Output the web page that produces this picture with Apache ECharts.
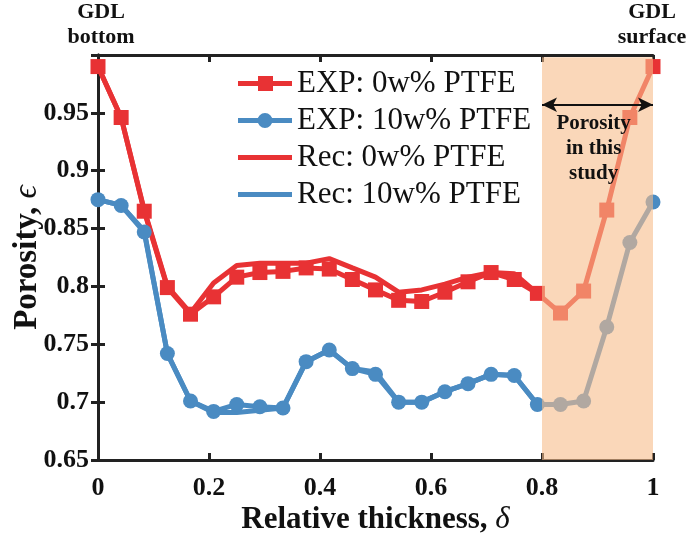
<!DOCTYPE html>
<html>
<head>
<meta charset="utf-8">
<script src="https://cdn.jsdelivr.net/npm/echarts@6/dist/echarts.min.js"></script>
<style>
  html, body { margin: 0; padding: 0; background: #fff; }
  #chart { width: 686px; height: 540px; }
</style>
</head>
<body>
<div id="chart"></div>
<script>
// relative thickness positions of the measured slices
var xExp = [0, 0.0417, 0.0833, 0.125, 0.1667, 0.2083, 0.25, 0.2917, 0.3333, 0.375, 0.4167, 0.4583, 0.5,
            0.5417, 0.5833, 0.625, 0.6667, 0.7083, 0.75, 0.7917, 0.8333, 0.875, 0.9167, 0.9583, 1];
var exp0 = [0.99, 0.946, 0.865, 0.799, 0.776, 0.791, 0.808, 0.812, 0.813, 0.816, 0.815, 0.806, 0.797,
            0.788, 0.787, 0.795, 0.804, 0.812, 0.806, 0.794, 0.777, 0.796, 0.866, 0.946, 0.99];
var exp10 = [0.875, 0.870, 0.847, 0.742, 0.701, 0.692, 0.698, 0.696, 0.695, 0.735, 0.745, 0.729, 0.724,
             0.700, 0.700, 0.709, 0.716, 0.724, 0.723, 0.698, 0.698, 0.701, 0.765, 0.838, 0.873];
// reconstruction only covers 0 .. 0.8
var xRec = xExp.slice(0, 20);
var rec0 = [0.99, 0.946, 0.866, 0.80, 0.777, 0.803, 0.818, 0.820, 0.820, 0.820, 0.824, 0.816, 0.808,
            0.795, 0.797, 0.802, 0.808, 0.812, 0.811, 0.794];
var rec10 = [0.875, 0.870, 0.848, 0.742, 0.701, 0.691, 0.691, 0.693, 0.695, 0.735, 0.745, 0.729, 0.726,
             0.700, 0.700, 0.709, 0.716, 0.724, 0.723, 0.698];
var names = ['EXP: 0w% PTFE', 'EXP: 10w% PTFE', 'Rec: 0w% PTFE', 'Rec: 10w% PTFE'];
var studyRange = [0.8, 1];

var red = '#e83234';
var blue = '#4a8bc2';
var serif = '"Liberation Serif", "Times New Roman", serif';

// legend icons: thick line, with a square / circle marker for the EXP ones
var iconSquare = 'path://M0,5H54V10H0Z M20,0H35V15H20Z';
var iconCircle = 'path://M0,5H54V10H0Z M19.5,7.5A7.5,7.5 0 1 1 34.5,7.5A7.5,7.5 0 1 1 19.5,7.5Z';
var iconLine = 'path://M0,5H54V10H0Z';

function pairs(xs, ys) {
  return xs.map(function (x, i) { return [x, ys[i]]; });
}

var chartDom = document.getElementById('chart');
var myChart = echarts.init(chartDom);

var axisCommon = {
  axisLine: { show: true, lineStyle: { color: '#222', width: 3 } },
  axisTick: { show: true, inside: true, length: 7, lineStyle: { color: '#222', width: 3 } },
  splitLine: { show: false }
};

var option = {
  animation: false,
  backgroundColor: '#fff',
  grid: { left: 98, right: 33, top: 55, bottom: 80, containLabel: false, outerBoundsMode: 'none' },
  legend: {
    data: [
      { name: names[0], icon: iconSquare },
      { name: names[1], icon: iconCircle },
      { name: names[2], icon: iconLine },
      { name: names[3], icon: iconLine }
    ],
    orient: 'vertical',
    left: 233,
    top: 63,
    itemWidth: 54,
    itemHeight: 15,
    itemGap: 6,
    textStyle: { fontFamily: serif, fontSize: 31, color: '#111' }
  },
  title: [
    { text: 'GDL\nbottom', left: 101, top: 0, padding: 0, textAlign: 'center',
      textStyle: { fontFamily: serif, fontWeight: 'bold', fontSize: 22, lineHeight: 25, color: '#111' } },
    { text: 'GDL\nsurface', left: 652, top: 0, padding: 0, textAlign: 'center',
      textStyle: { fontFamily: serif, fontWeight: 'bold', fontSize: 22, lineHeight: 25, color: '#111' } }
  ],
  xAxis: [
    Object.assign({
      type: 'value', min: 0, max: 1, interval: 0.2, position: 'bottom',
      axisLabel: { fontFamily: serif, fontWeight: 'bold', fontSize: 26, color: '#111', margin: 15,
        formatter: function (v) { return String(+v.toFixed(1)); } },
      name: '{b|Relative thickness, }{i|δ}',
      nameLocation: 'middle', nameGap: 44, nameMoveOverlap: false,
      nameTextStyle: { rich: {
        b: { fontFamily: serif, fontWeight: 'bold', fontSize: 31, color: '#111' },
        i: { fontFamily: serif, fontStyle: 'italic', fontSize: 31, color: '#111' } } }
    }, axisCommon),
    Object.assign({
      type: 'value', min: 0, max: 1, interval: 0.2, position: 'top',
      axisLabel: { show: false }
    }, axisCommon)
  ],
  yAxis: [
    Object.assign({
      type: 'value', min: 0.65, max: 1, interval: 0.05, position: 'left',
      axisLabel: { fontFamily: serif, fontWeight: 'bold', fontSize: 26, color: '#111', margin: 9,
        formatter: function (v) { return v > 0.99 ? '' : String(+v.toFixed(2)); } },
      name: '{b|Porosity, }{i|ϵ}',
      nameLocation: 'middle', nameGap: 54, nameRotate: 90, nameMoveOverlap: false,
      nameTextStyle: { rich: {
        b: { fontFamily: serif, fontWeight: 'bold', fontSize: 33, color: '#111' },
        i: { fontFamily: serif, fontStyle: 'italic', fontSize: 33, color: '#111' } } }
    }, axisCommon),
    Object.assign({
      type: 'value', min: 0.65, max: 1, interval: 0.05, position: 'right',
      axisLabel: { show: false }
    }, axisCommon)
  ],
  series: [
    {
      name: names[0], type: 'line', data: pairs(xExp, exp0),
      symbol: 'rect', symbolSize: 15,
      lineStyle: { color: red, width: 5 },
      itemStyle: { color: red },
      z: 2
    },
    {
      name: names[1], type: 'line', data: pairs(xExp, exp10),
      symbol: 'circle', symbolSize: 15,
      lineStyle: { color: blue, width: 5 },
      itemStyle: { color: blue },
      z: 2
    },
    {
      name: names[2], type: 'line', data: pairs(xRec, rec0),
      showSymbol: false, symbol: 'none',
      lineStyle: { color: red, width: 5 },
      itemStyle: { color: red },
      z: 2
    },
    {
      name: names[3], type: 'line', data: pairs(xRec, rec10),
      showSymbol: false, symbol: 'none',
      lineStyle: { color: blue, width: 5 },
      itemStyle: { color: blue },
      z: 2
    },
    {
      // translucent band over the studied range, drawn above the curves
      name: 'study', type: 'line', data: [], z: 5, silent: true,
      markArea: {
        silent: true, z: 10,
        itemStyle: { color: 'rgba(247,188,138,0.6)' },
        data: [[{ coord: [studyRange[0], 0.65] }, { coord: [studyRange[1], 0.998] }]]
      }
    },
    {
      name: 'arrow', type: 'line', data: [], z: 6, silent: true,
      markLine: {
        silent: true, z: 12,
        symbol: ['arrow', 'arrow'],
        symbolSize: [11, 15],
        lineStyle: { color: '#111', width: 2, type: 'solid' },
        label: { show: false },
        data: [[{ coord: [studyRange[0], 0.957] }, { coord: [studyRange[1], 0.957] }]]
      },
      markPoint: {
        silent: true, z: 12,
        symbol: 'circle', symbolSize: 1,
        itemStyle: { color: 'transparent' },
        label: {
          show: true, position: 'inside',
          formatter: 'Porosity\nin this\nstudy',
          fontFamily: serif, fontWeight: 'bold', fontSize: 21, lineHeight: 25, color: '#111'
        },
        data: [{ coord: [0.893, 0.919] }]
      }
    }
  ]
};

myChart.setOption(option);
</script>
</body>
</html>
